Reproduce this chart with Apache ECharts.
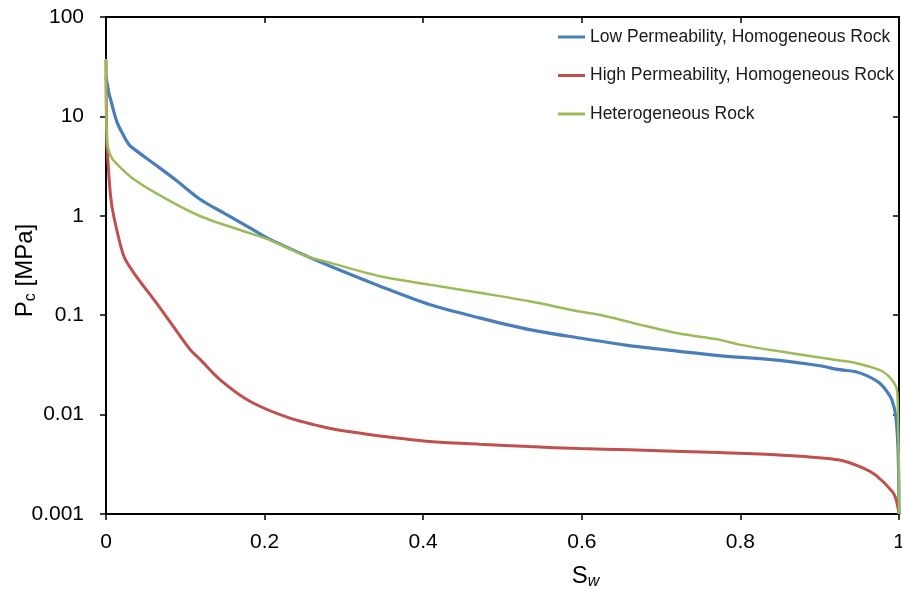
<!DOCTYPE html>
<html>
<head>
<meta charset="utf-8">
<script src="https://cdn.jsdelivr.net/npm/echarts@6/dist/echarts.min.js"></script>
<style>
  html, body { margin: 0; padding: 0; background: #ffffff; }
  #chart { width: 902px; height: 595px; }
</style>
</head>
<body>
<div id="chart"></div>
<script>
// Capillary pressure curves Pc(Sw) for three rock types
const seriesNames = [
  'Low Permeability, Homogeneous Rock',
  'High Permeability, Homogeneous Rock',
  'Heterogeneous Rock'
];

// Low permeability, homogeneous rock
const swLow = [0, 0.0035, 0.0057, 0.014, 0.0224, 0.0287, 0.033, 0.0644, 0.0896, 0.119, 0.15, 0.182, 0.203, 0.253, 0.283, 0.3455, 0.408, 0.471, 0.534, 0.597, 0.660, 0.723, 0.773, 0.849, 0.90, 0.925, 0.9455, 0.96, 0.975, 0.985, 0.991, 0.996, 0.999, 1];
const pcLow = [25, 17.4, 14.9, 8.7, 6.36, 5.25, 4.85, 3.17, 2.24, 1.46, 1.05, 0.75, 0.6, 0.393, 0.311, 0.196, 0.128, 0.094, 0.0716, 0.059, 0.0494, 0.0433, 0.0392, 0.0351, 0.031, 0.0283, 0.027, 0.0245, 0.0209, 0.017, 0.0141, 0.0096, 0.004, 0.001];

// High permeability, homogeneous rock
const swHigh = [0, 0.0008, 0.0015, 0.0057, 0.0098, 0.0224, 0.035, 0.0644, 0.0875, 0.106, 0.119, 0.144, 0.182, 0.232, 0.283, 0.308, 0.3455, 0.408, 0.471, 0.534, 0.597, 0.660, 0.773, 0.849, 0.925, 0.955, 0.971, 0.9916, 0.9966, 1];
const pcHigh = [37, 6, 4.6, 1.6, 0.99, 0.393, 0.267, 0.13, 0.072, 0.0452, 0.0357, 0.0224, 0.01355, 0.00922, 0.00725, 0.00672, 0.0061, 0.00536, 0.00504, 0.00477, 0.00455, 0.00442, 0.00415, 0.00393, 0.0035, 0.0029, 0.00245, 0.00168, 0.00138, 0.001];

// Heterogeneous rock
const swHet = [0, 0.0015, 0.006, 0.012, 0.035, 0.077, 0.119, 0.182, 0.203, 0.253, 0.283, 0.3455, 0.408, 0.471, 0.534, 0.597, 0.6225, 0.673, 0.723, 0.773, 0.799, 0.849, 0.925, 0.9455, 0.979, 0.9937, 0.998, 1];
const pcHet = [37.8, 5.46, 4.0, 3.43, 2.33, 1.46, 0.99, 0.665, 0.585, 0.393, 0.336, 0.247, 0.203, 0.168, 0.138, 0.109, 0.101, 0.0804, 0.0653, 0.0568, 0.0506, 0.0433, 0.0351, 0.033, 0.0273, 0.0209, 0.0165, 0.001];

// Axis tick labels
const xTickLabels = ['0', '0.2', '0.4', '0.6', '0.8', '1'];
const yTickLabels = ['0.001', '0.01', '0.1', '1', '10', '100'];

const colors = ['#4a7ebb', '#c0504d', '#9bbb59'];
const lineWidths = [3.2, 3, 2.5];
const FONT = '"Liberation Sans", Arial, Helvetica, sans-serif';

function pairs(xs, ys) {
  return xs.map((x, i) => [x, ys[i]]);
}
const seriesData = [pairs(swLow, pcLow), pairs(swHigh, pcHigh), pairs(swHet, pcHet)];

const chart = echarts.init(document.getElementById('chart'), null, { renderer: 'canvas' });

const axisLine = { show: true, onZero: false, lineStyle: { color: '#000', width: 2 } };

chart.setOption({
  animation: false,
  backgroundColor: '#ffffff',
  grid: { left: 106, right: 3, top: 17, bottom: 81, containLabel: false, outerBoundsMode: 'none' },
  legend: {
    orient: 'vertical',
    left: 553,
    top: 22,
    icon: 'rect',
    itemWidth: 27,
    itemHeight: 3,
    itemGap: 18.5,
    textGap: 5,
    data: seriesNames,
    textStyle: { fontFamily: FONT, fontSize: 17.5, color: '#1a1a1a', lineHeight: 20 }
  },
  xAxis: [
    {
      type: 'value', min: 0, max: 1, interval: 0.2, position: 'bottom',
      axisLine: axisLine,
      axisTick: { show: true, inside: false, length: 6, lineStyle: { color: '#000', width: 1.5 } },
      splitLine: { show: false },
      axisLabel: {
        margin: 18, fontFamily: FONT, fontSize: 21, color: '#000',
        formatter: v => xTickLabels[Math.round(v / 0.2)]
      },
      name: '{m|S}{s|w}',
      nameLocation: 'middle',
      nameGap: 48,
      nameMoveOverlap: false,
      nameTextStyle: {
        padding: [0, 0, 0, 166],
        rich: {
          m: { fontFamily: FONT, fontSize: 24, color: '#000', lineHeight: 28, verticalAlign: 'middle' },
          s: { fontFamily: FONT, fontSize: 16, fontStyle: 'italic', color: '#000', lineHeight: 16, verticalAlign: 'bottom' }
        }
      }
    },
    {
      type: 'value', min: 0, max: 1, interval: 0.2, position: 'top',
      axisLine: axisLine,
      axisTick: { show: true, inside: true, length: 6, lineStyle: { color: '#000', width: 1.5 } },
      axisLabel: { show: false },
      splitLine: { show: false }
    }
  ],
  yAxis: [
    {
      type: 'log', logBase: 10, min: 0.001, max: 100, position: 'left',
      axisLine: axisLine,
      axisTick: { show: true, inside: false, length: 6, lineStyle: { color: '#000', width: 1.5 } },
      splitLine: { show: false },
      minorTick: { show: false },
      axisLabel: {
        margin: 22, fontFamily: FONT, fontSize: 21, color: '#000',
        formatter: v => yTickLabels[Math.round(Math.log10(v)) + 3]
      },
      name: '{m|P}{s|c}{m| [MPa]}',
      nameLocation: 'middle',
      nameGap: 67,
      nameRotate: 90,
      nameMoveOverlap: false,
      nameTextStyle: {
        padding: [0, 10, 0, 0],
        rich: {
          m: { fontFamily: FONT, fontSize: 24, color: '#000', lineHeight: 28, verticalAlign: 'middle' },
          s: { fontFamily: FONT, fontSize: 16, color: '#000', lineHeight: 16, verticalAlign: 'bottom' }
        }
      }
    },
    {
      type: 'log', logBase: 10, min: 0.001, max: 100, position: 'right',
      axisLine: axisLine,
      axisTick: { show: true, inside: true, length: 6, lineStyle: { color: '#000', width: 1.5 } },
      axisLabel: { show: false },
      splitLine: { show: false }
    }
  ],
  series: seriesNames.map((name, i) => ({
    name: name,
    type: 'line',
    xAxisIndex: 0,
    yAxisIndex: 0,
    data: seriesData[i],
    showSymbol: false,
    symbol: 'none',
    smooth: 0.3,
    clip: false,
    color: colors[i],
    lineStyle: { color: colors[i], width: lineWidths[i] },
    z: 3 + i
  }))
});
</script>
</body>
</html>
